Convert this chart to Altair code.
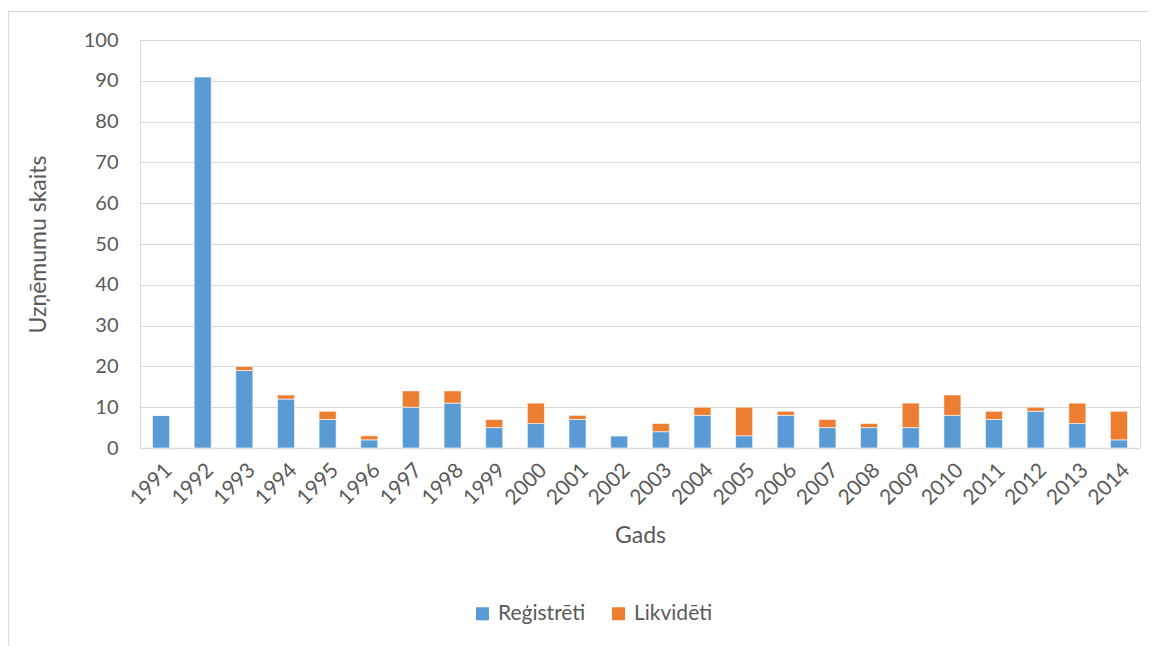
import altair as alt
import pandas as pd

years = [str(y) for y in range(1991, 2015)]
registreti = [8, 91, 19, 12, 7, 2, 10, 11, 5, 6, 7, 3, 4, 8, 3, 8, 5, 5, 5, 8, 7, 9, 6, 2]
likvideti = [0, 0, 1, 1, 2, 1, 4, 3, 2, 5, 1, 0, 2, 2, 7, 1, 2, 1, 6, 5, 2, 1, 5, 7]
series = ["Reģistrēti", "Likvidēti"]
colors = ["#5B9BD5", "#ED7D31"]

rows = []
for i, y in enumerate(years):
    rows.append({"Gads": y, "Sērija": series[0], "v": registreti[i], "o": 0})
    rows.append({"Gads": y, "Sērija": series[1], "v": likvideti[i], "o": 1})
df = pd.DataFrame(rows)

FONT = "Lato"

bars = alt.Chart(df).mark_bar(stroke="white", strokeWidth=0.6).encode(
    x=alt.X("Gads:N", sort=years,
            scale=alt.Scale(paddingInner=0.59, paddingOuter=0.3),
            axis=alt.Axis(title="Gads", labelAngle=-45, labelFontSize=21,
                          labelColor="#595959", titleFontSize=23, titleColor="#595959",
                          titleFontWeight="normal", titlePadding=16,
                          ticks=False, domainColor="#d9d9d9", domainWidth=1.5,
                          labelPadding=11, labelFont=FONT, titleFont=FONT)),
    y=alt.Y("v:Q", stack="zero",
            scale=alt.Scale(domain=[0, 100]),
            axis=alt.Axis(title="Uzņēmumu skaits", values=list(range(0, 101, 10)),
                          labelFontSize=20, labelColor="#595959", titleFontSize=23,
                          titleColor="#595959", titleFontWeight="normal",
                          titlePadding=33, ticks=False, domain=False,
                          gridColor="#d9d9d9", gridWidth=1.2, labelPadding=22,
                          labelFont=FONT, titleFont=FONT)),
    color=alt.Color("Sērija:N", scale=alt.Scale(domain=series, range=colors),
                    sort=series,
                    legend=alt.Legend(title=None, orient="none", direction="horizontal",
                                      legendX=332, legendY=563, symbolType="square",
                                      symbolSize=170, symbolStrokeWidth=0,
                                      labelFontSize=21, labelColor="#595959",
                                      labelFont=FONT, columnPadding=22, labelOffset=5)),
    order=alt.Order("o:Q", sort="ascending"),
)

border = alt.Chart(pd.DataFrame({"a": [0]})).mark_rect(
    fill=None, stroke="#d9d9d9", strokeWidth=1.2
).encode(x=alt.value(-131.5), x2=alt.value(1030), y=alt.value(-28.5), y2=alt.value(640))

chart = alt.layer(border, bars).properties(
    width=1000, height=408,
    autosize=alt.AutoSizeParams(type="none"),
    padding={"left": 132, "top": 32, "right": 8, "bottom": 198},
).configure_view(stroke=None).configure(font=FONT)

chart.save("out.html", embed_options={"renderer": "svg", "actions": False})
